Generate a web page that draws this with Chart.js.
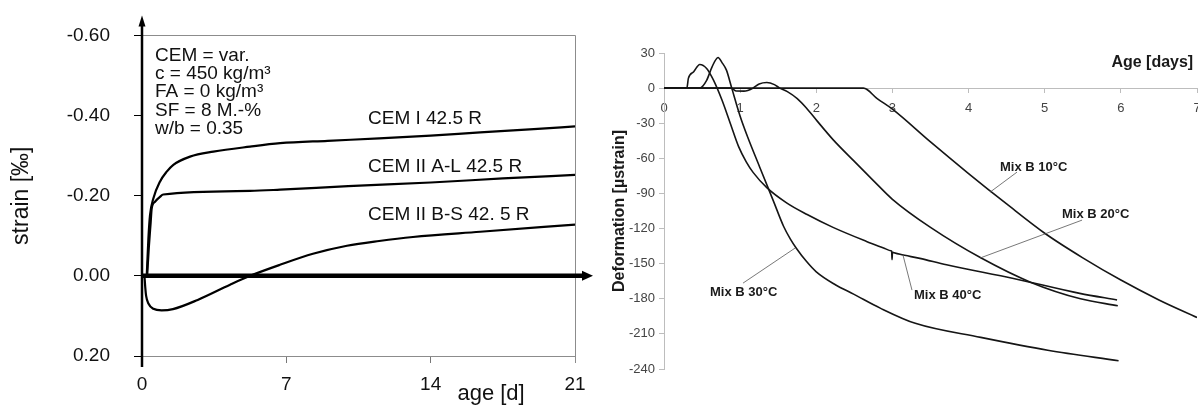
<!DOCTYPE html>
<html><head><meta charset="utf-8">
<script src="https://cdn.jsdelivr.net/npm/chart.js@4.4.1/dist/chart.umd.min.js"></script>
<style>
html,body{margin:0;padding:0;background:#fff;}
#wrap{position:relative;width:1198px;height:405px;overflow:hidden;background:#fff;}
canvas{position:absolute;top:0;}
#c1{left:0;}
#c2{left:600px;}
</style></head><body>
<div id="wrap"><canvas id="c1" width="600" height="405"></canvas><canvas id="c2" width="598" height="405"></canvas></div>
<script>
// ===== Left chart: strain [‰] vs age [d] =====
const leftXTicks = [0, 7, 14, 21];
const leftYTicks = [-0.60, -0.40, -0.20, 0.00, 0.20];
const cem1Age    = [0.23, 0.31, 0.39, 0.55, 0.87, 1.2, 1.52, 2.33, 3.46, 5.24, 6.7, 9, 11.5, 14, 16.4, 19, 21];
const cem1Strain = [0, -0.093, -0.152, -0.193, -0.235, -0.26, -0.277, -0.2975, -0.31, -0.3225, -0.331, -0.337, -0.343, -0.35, -0.358, -0.366, -0.373];
const cemALAge    = [0.25, 0.33, 0.42, 0.47, 0.63, 0.87, 1.03, 5.24, 6.7, 10, 14, 17.5, 21];
const cemALStrain = [0, -0.07, -0.133, -0.168, -0.185, -0.197, -0.203, -0.212, -0.215, -0.224, -0.233, -0.243, -0.252];
const cemBSAge    = [0.12, 0.16, 0.2, 0.31, 0.55, 0.95, 1.5, 2.7, 4.27, 5.24, 6.69, 8.29, 9.94, 11.5, 13.14, 16.4, 21];
const cemBSStrain = [0, 0.03, 0.05, 0.069, 0.082, 0.086, 0.083, 0.06, 0.022, 0, -0.0275, -0.055, -0.075, -0.087, -0.097, -0.11, -0.128];
const leftInfoLines = ['CEM = var.', 'c = 450 kg/m³', 'FA = 0 kg/m³', 'SF = 8 M.-%', 'w/b = 0.35'];
const leftCurveNames = ['CEM I 42.5 R', 'CEM II A-L 42.5 R', 'CEM II B-S 42. 5 R'];

// ===== Right chart: Deformation [µstrain] vs Age [days] =====
const rightXTicks = [0, 1, 2, 3, 4, 5, 6, 7];
const rightYTicks = [30, 0, -30, -60, -90, -120, -150, -180, -210, -240];
const mix10Age = [0, 2.62, 2.8, 3, 3.5, 4, 4.5, 5, 5.5, 6, 6.5, 7];
const mix10Def = [0, 0, -9, -18, -46, -73, -99, -124, -145, -164, -181, -196];
const mix20Age = [0, 0.88, 0.95, 1.05, 1.1, 1.17, 1.25, 1.35, 1.45, 1.52, 1.62, 1.75, 1.87, 2.01, 2.22, 2.49, 2.75, 3.0, 3.5, 4.16, 4.82, 5.47, 5.96];
const mix20Def = [0, 0, -2.5, -2.6, -2, 0, 3.5, 4.8, 3, 0, -3, -9, -17, -28, -44, -62, -79, -95, -119, -145, -166, -180, -186];
const mix30Age = [0, 0.47, 0.56, 0.63, 0.71, 0.76, 0.82, 0.89, 1.0, 1.1, 1.26, 1.44, 1.57, 1.66, 1.74, 1.87, 2.0, 2.25, 2.49, 2.84, 3.3, 4.16, 5.04, 5.97];
const mix30Def = [0, 0, 6.6, 18, 26.2, 22, 15.4, 0, -24, -42, -68, -97, -118, -129, -137, -148, -157, -168, -176, -188, -201, -213, -224, -233];
const mix40Age = [0, 0.30, 0.32, 0.39, 0.47, 0.56, 0.65, 0.76, 0.87, 0.98, 1.08, 1.17, 1.35, 1.61, 1.88, 2.22, 2.66, 2.9, 2.98, 2.99, 2.995, 3.0, 3.01, 3.1, 3.36, 3.71, 4.59, 5.46, 5.95];
const mix40Def = [0, 0, 8.3, 14, 20.2, 16.8, 6.8, -10, -30, -50, -63, -72, -85, -98, -108, -119, -131, -137, -139, -139.3, -146.5, -140.2, -140.4, -142, -145.5, -151, -162.6, -175.4, -181];
const rightCurveNames = ['Mix B 10°C', 'Mix B 20°C', 'Mix B 30°C', 'Mix B 40°C'];

const FONT = '"Liberation Sans", Arial, sans-serif';
const zip = (xs, ys) => xs.map((x, i) => ({x: x, y: ys[i]}));

// label placements (data coordinates)
const leftInfoPos = {x: 0.63, y: -0.55, lineGap: 18.3};
const leftNamePos = [{x: 10.96, y: -0.3925}, {x: 10.96, y: -0.2725}, {x: 10.96, y: -0.1525}];
const rightNamePos = [
  {tx: 4.413, ty: -67.5, l: [[4.636, -71.8], [4.282, -88.9]]},
  {tx: 5.227, ty: -107.7, l: [[5.49, -112.8], [4.15, -145.2]]},
  {tx: 0.604, ty: -174.3, l: [[1.038, -166.6], [1.721, -136.7]]},
  {tx: 3.283, ty: -176.9, l: [[3.257, -172.6], [3.139, -142.7]]}
];

const leftDecor = {
  id: 'leftDecor',
  beforeDatasetsDraw(chart) {
    const {ctx, scales: {x, y}} = chart;
    const x0 = Math.round(x.getPixelForValue(0));
    const x21 = Math.round(x.getPixelForValue(21));
    const yTop = Math.round(y.getPixelForValue(-0.6));
    const yBot = Math.round(y.getPixelForValue(0.2));
    ctx.save();
    ctx.strokeStyle = '#8c8c8c'; ctx.lineWidth = 1;
    ctx.beginPath();
    ctx.moveTo(x0, yTop + 0.5); ctx.lineTo(x21 + 0.5, yTop + 0.5); ctx.lineTo(x21 + 0.5, yBot + 7);
    ctx.stroke();
    ctx.restore();
  },
  afterDatasetsDraw(chart) {
    const {ctx, scales: {x, y}} = chart;
    const x0 = x.getPixelForValue(0);
    const x21 = x.getPixelForValue(21);
    const yTop = y.getPixelForValue(-0.6);
    const yBot = y.getPixelForValue(0.2);
    const yZero = y.getPixelForValue(0);
    ctx.save();
    ctx.strokeStyle = '#000'; ctx.fillStyle = '#000';
    ctx.lineWidth = 4.5;
    ctx.beginPath(); ctx.moveTo(x0, yZero); ctx.lineTo(x21 + 9, yZero); ctx.stroke();
    ctx.beginPath(); ctx.moveTo(x21 + 18, yZero); ctx.lineTo(x21 + 7, yZero - 5); ctx.lineTo(x21 + 7, yZero + 5); ctx.closePath(); ctx.fill();
    ctx.lineWidth = 2.5;
    ctx.beginPath(); ctx.moveTo(x0, yBot + 11); ctx.lineTo(x0, yTop - 12); ctx.stroke();
    ctx.beginPath(); ctx.moveTo(x0, yTop - 20); ctx.lineTo(x0 - 3.5, yTop - 9); ctx.lineTo(x0 + 3.5, yTop - 9); ctx.closePath(); ctx.fill();
    ctx.fillStyle = '#111';
    ctx.font = '19px ' + FONT;
    ctx.textAlign = 'left'; ctx.textBaseline = 'middle';
    const ix = x.getPixelForValue(leftInfoPos.x), iy = y.getPixelForValue(leftInfoPos.y);
    leftInfoLines.forEach((t, i) => ctx.fillText(t, ix, iy + i * leftInfoPos.lineGap));
    leftCurveNames.forEach((t, i) => ctx.fillText(t, x.getPixelForValue(leftNamePos[i].x), y.getPixelForValue(leftNamePos[i].y)));
    ctx.font = '22px ' + FONT;
    ctx.textAlign = 'center'; ctx.textBaseline = 'alphabetic';
    ctx.fillText('age [d]', x.getPixelForValue(16.93), yBot + 44);
    ctx.restore();
  }
};

const rightDecor = {
  id: 'rightDecor',
  afterDatasetsDraw(chart) {
    const {ctx, scales: {x, y}} = chart;
    ctx.save();
    ctx.strokeStyle = '#555'; ctx.lineWidth = 0.8;
    ctx.fillStyle = '#1a1a1a';
    ctx.font = 'bold 13px ' + FONT;
    ctx.textAlign = 'left'; ctx.textBaseline = 'middle';
    rightNamePos.forEach((p, i) => {
      ctx.beginPath();
      ctx.moveTo(x.getPixelForValue(p.l[0][0]), y.getPixelForValue(p.l[0][1]));
      ctx.lineTo(x.getPixelForValue(p.l[1][0]), y.getPixelForValue(p.l[1][1]));
      ctx.stroke();
      ctx.fillText(rightCurveNames[i], x.getPixelForValue(p.tx), y.getPixelForValue(p.ty));
    });
    ctx.font = 'bold 16px ' + FONT;
    ctx.textAlign = 'right';
    ctx.fillText('Age [days]', x.getPixelForValue(6.95), y.getPixelForValue(22.2));
    ctx.restore();
  }
};

const lineDs = (xs, ys, w, c) => ({data: zip(xs, ys), borderColor: c, borderWidth: w, pointRadius: 0, fill: false, cubicInterpolationMode: 'monotone'});

new Chart(document.getElementById('c1'), {
  type: 'line',
  data: {datasets: [
    lineDs(cem1Age, cem1Strain, 2.2, '#000'),
    lineDs(cemALAge, cemALStrain, 2.2, '#000'),
    lineDs(cemBSAge, cemBSStrain, 2.2, '#000')
  ]},
  options: {
    responsive: false, animation: false, devicePixelRatio: 1,
    layout: {padding: {top: 34, right: 25, left: 0, bottom: 0}},
    plugins: {legend: {display: false}, tooltip: {enabled: false}},
    scales: {
      x: {
        type: 'linear', min: 0, max: 21,
        afterBuildTicks: s => { s.ticks = leftXTicks.map(v => ({value: v})); },
        afterFit: s => { s.height = 49; },
        grid: {drawOnChartArea: false, tickLength: 7, color: '#777'},
        border: {display: true, color: '#8c8c8c'},
        ticks: {font: {family: FONT, size: 19}, color: '#111', padding: 10, maxRotation: 0, autoSkip: false}
      },
      y: {
        type: 'linear', reverse: true, min: -0.6, max: 0.2,
        afterBuildTicks: s => { s.ticks = leftYTicks.map(v => ({value: v})); },
        afterFit: s => { s.width = 142; },
        grid: {drawOnChartArea: false, tickLength: 8, color: '#000'},
        border: {display: false},
        ticks: {font: {family: FONT, size: 19}, color: '#111', padding: 24,
          callback: v => (Math.abs(v) < 1e-9 ? 0 : v).toFixed(2)},
        title: {display: true, text: 'strain [‰]', font: {family: FONT, size: 23}, color: '#111', padding: {top: 8, bottom: 0}}
      }
    }
  },
  plugins: [leftDecor]
});

new Chart(document.getElementById('c2'), {
  type: 'line',
  data: {datasets: [
    lineDs(mix10Age, mix10Def, 1.6, '#151515'),
    lineDs(mix20Age, mix20Def, 1.6, '#151515'),
    lineDs(mix30Age, mix30Def, 1.6, '#151515'),
    lineDs(mix40Age, mix40Def, 1.6, '#151515')
  ]},
  options: {
    responsive: false, animation: false, devicePixelRatio: 1,
    layout: {padding: {top: 53, right: 1, left: 0, bottom: 36}},
    plugins: {legend: {display: false}, tooltip: {enabled: false}},
    scales: {
      x: {
        type: 'linear', min: 0, max: 7, position: {y: 0},
        afterBuildTicks: s => { s.ticks = rightXTicks.map(v => ({value: v})); },
        afterFit: s => { s.paddingLeft = 0; s.paddingRight = 0; },
        grid: {drawOnChartArea: false, tickLength: 4, color: '#bdbdbd'},
        border: {display: true, color: '#bdbdbd'},
        ticks: {font: {family: FONT, size: 13}, color: '#444', padding: 9, maxRotation: 0, autoSkip: false}
      },
      y: {
        type: 'linear', min: -240, max: 30, position: 'left',
        afterBuildTicks: s => { s.ticks = rightYTicks.map(v => ({value: v})); },
        afterFit: s => { s.width = 64; },
        grid: {drawOnChartArea: false, tickLength: 5, color: '#bdbdbd'},
        border: {display: true, color: '#bdbdbd'},
        ticks: {font: {family: FONT, size: 13}, color: '#444', padding: 4},
        title: {display: true, text: 'Deformation [µstrain]', font: {family: FONT, size: 16, weight: 'bold'}, color: '#1a1a1a', padding: {top: 10, bottom: 0}}
      }
    }
  },
  plugins: [rightDecor]
});
</script>
</body></html>
